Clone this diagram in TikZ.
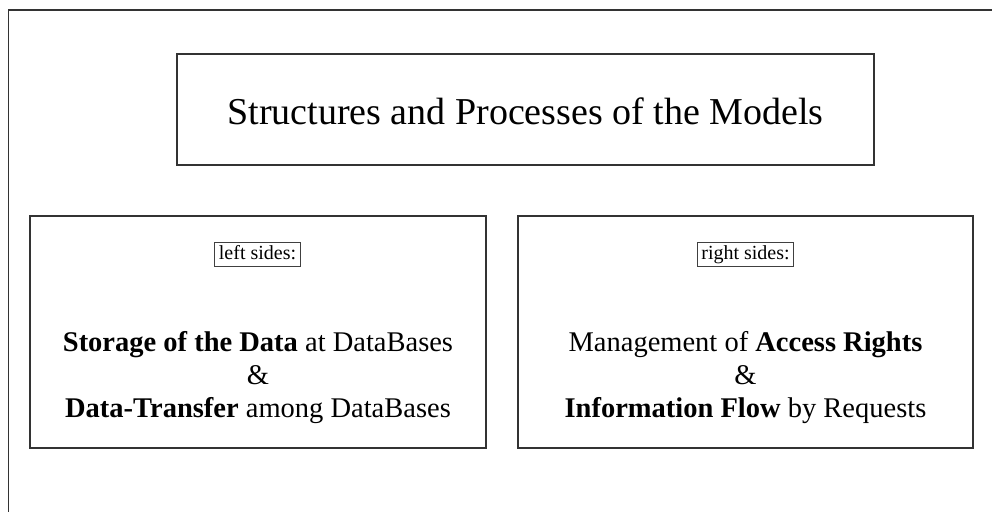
\documentclass[tikz,border=0pt]{standalone}
\usepackage{fontspec}
\setmainfont{Liberation Serif}
\begin{document}
\begin{tikzpicture}[x=1pt,y=-1pt,
  frame/.style={draw=black!80, line width=1.3pt},
  labelbox/.style={draw=black!75, line width=0.9pt, inner xsep=4pt, inner ysep=0pt, text height=15pt, text depth=5pt, minimum height=24pt, font=\fontsize{20}{22}\selectfont},
  body/.style={align=center, font=\fontsize{28.5}{33}\selectfont}]
\useasboundingbox (0,0) rectangle (992,512);
\draw[frame] (992,10) -- (8.5,10) -- (8.5,512);
% title box
\draw[frame] (177,54) rectangle (874,165);
\node[font=\fontsize{38}{44}\selectfont] (title) at (525.5,111) {Structures and Processes of the Models};
% left box
\draw[frame] (30,216) rectangle (486,448);
\node[labelbox] (lleft) at (257.5,254) {left sides:};
\node[body] (lbody) at (258,378) {\textbf{Storage of the Data} at DataBases\\ \&\\ \textbf{Data-Transfer} among DataBases};
% right box
\draw[frame] (518,216) rectangle (973,448);
\node[labelbox] (lright) at (745.5,254) {right sides:};
\node[body] (rbody) at (745.5,378) {Management of \textbf{Access Rights}\\ \&\\ \textbf{Information Flow} by Requests};
\end{tikzpicture}
\end{document}
